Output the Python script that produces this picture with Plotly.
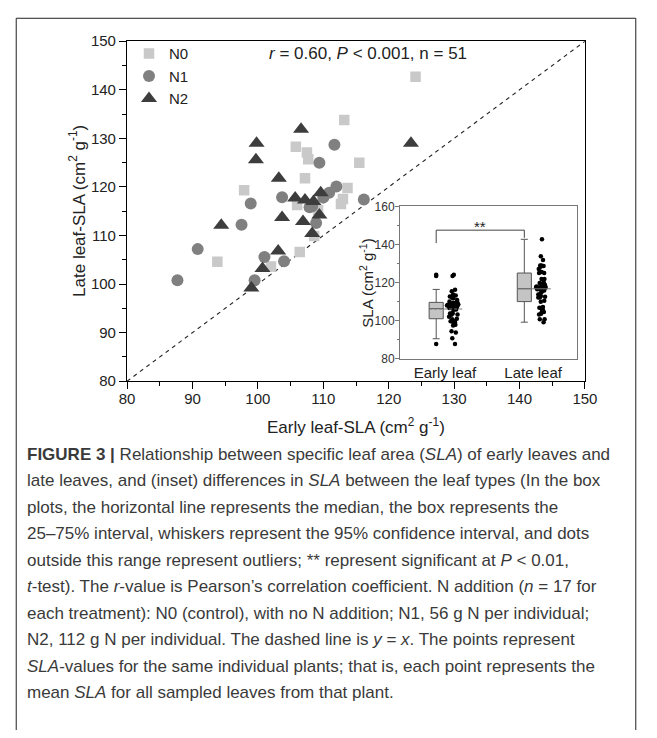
import plotly.graph_objects as go
import numpy as np

# ---------------- data ----------------
n0_early = [124.1, 113.2, 105.8, 107.5, 107.7, 115.5, 107.2, 97.9, 113.7, 113.0,
            112.7, 106.4, 93.8, 102.0, 108.6, 109.2, 106.0]
n0_late = [142.7, 133.8, 128.3, 127.1, 125.7, 125.0, 121.8, 119.3, 119.8, 117.5,
           116.5, 106.6, 104.6, 103.6, 109.9, 115.2, 116.3]

n1_early = [111.7, 109.4, 98.9, 103.7, 110.9, 112.0, 116.2, 107.9, 108.9, 97.5,
            90.8, 87.7, 101.0, 104.0, 99.5, 108.3, 110.0]
n1_late = [128.7, 125.0, 116.6, 117.9, 118.8, 120.1, 117.4, 115.8, 112.6, 112.2,
           107.2, 100.8, 105.6, 104.7, 100.8, 116.0, 117.8]

n2_early = [99.8, 99.7, 103.2, 106.6, 123.4, 105.7, 107.2, 108.5, 109.6, 103.7,
            106.9, 109.4, 108.3, 94.4, 103.1, 100.7, 99.0]
n2_late = [129.0, 125.6, 121.8, 131.9, 129.0, 117.7, 117.3, 117.0, 118.8, 113.7,
           112.9, 114.2, 110.4, 112.1, 106.8, 103.2, 99.2]

groups = ["N0", "N1", "N2"]
main_ticks = [80, 90, 100, 110, 120, 130, 140, 150]
identity_range = [80, 150]

# inset box statistics
leaf_types = ["Early leaf", "Late leaf"]
box_q1 = [101.0, 110.0]
box_median = [106.3, 116.8]
box_q3 = [109.6, 125.0]
box_lower = [90.5, 99.2]
box_upper = [116.4, 142.7]
inset_ticks = [80, 100, 120, 140, 160]

caption_lines = [
    "<b>FIGURE 3 |</b> Relationship between specific leaf area (<i>SLA</i>) of early leaves and",
    "late leaves, and (inset) differences in <i>SLA</i> between the leaf types (In the box",
    "plots, the horizontal line represents the median, the box represents the",
    "25–75% interval, whiskers represent the 95% confidence interval, and dots",
    "outside this range represent outliers; ** represent significant at <i>P</i> &lt; 0.01,",
    "<i>t</i>-test). The <i>r</i>-value is Pearson’s correlation coefficient. N addition (<i>n</i> = 17 for",
    "each treatment): N0 (control), with no N addition; N1, 56 g N per individual;",
    "N2, 112 g N per individual. The dashed line is <i>y</i> = <i>x</i>. The points represent",
    "<i>SLA</i>-values for the same individual plants; that is, each point represents the",
    "mean <i>SLA</i> for all sampled leaves from that plant.",
]

# ---------------- helpers ----------------
# The page body margin is removed (post_script), so the figure fills the window;
# positions below are given in window pixels.
W, H = 657, 738
FONT = "Liberation Sans, Arial, sans-serif"


def fx(p):
    return p / W


def fy(p):
    return 1 - p / H


early_all = n0_early + n1_early + n2_early
late_all = n0_late + n1_late + n2_late
inset_data = [early_all, late_all]

fig = go.Figure()

# y = x dashed line
fig.add_trace(go.Scatter(x=identity_range, y=identity_range, mode="lines",
                         line=dict(color="#222222", width=1.1, dash="4px,4px"),
                         showlegend=False, hoverinfo="skip"))

styles = {
    "N0": dict(symbol="square", size=10.5, color="#c9c9c9"),
    "N1": dict(symbol="circle", size=12, color="#808080"),
    "N2": dict(symbol="triangle-up", size=14, color="#3d3d3d"),
}
for g, xe, yl in zip(groups, [n0_early, n1_early, n2_early], [n0_late, n1_late, n2_late]):
    fig.add_trace(go.Scatter(x=xe, y=yl, mode="markers", name=g,
                             marker=dict(symbol=styles[g]["symbol"], size=styles[g]["size"],
                                         color=styles[g]["color"], line=dict(width=0))))

# ---------------- inset ----------------
box_pos = [0.9, 1.9]
pts_pos = [1.1, 2.1]
for i in range(2):
    fig.add_trace(go.Box(x=[box_pos[i]], q1=[box_q1[i]], median=[box_median[i]],
                         q3=[box_q3[i]], lowerfence=[box_lower[i]], upperfence=[box_upper[i]],
                         width=0.16, whiskerwidth=0.5, fillcolor="#c4c4c4",
                         line=dict(color="#555555", width=1), boxpoints=False,
                         xaxis="x2", yaxis="y2", showlegend=False, hoverinfo="skip"))
    vals = np.array(inset_data[i])
    outl = vals[(vals < box_lower[i]) | (vals > box_upper[i])]
    fig.add_trace(go.Scatter(x=[box_pos[i]] * len(outl), y=outl, mode="markers",
                             marker=dict(color="black", size=4.5),
                             xaxis="x2", yaxis="y2", showlegend=False))
    fig.add_trace(go.Box(x=[pts_pos[i]] * len(vals), y=vals, boxpoints="all", jitter=1,
                         pointpos=0, width=0.17, fillcolor="rgba(0,0,0,0)",
                         line=dict(color="rgba(0,0,0,0)", width=0),
                         marker=dict(color="black", size=4.5),
                         xaxis="x2", yaxis="y2", showlegend=False))
    m = float(np.mean(vals))
    fig.add_trace(go.Scatter(x=[box_pos[i] - 0.08, pts_pos[i] + 0.1], y=[m, m], mode="lines",
                             line=dict(color="#777777", width=1,
                                       dash="3px,2px" if i == 0 else "solid"),
                             xaxis="x2", yaxis="y2", showlegend=False, hoverinfo="skip"))

axis_common = dict(showgrid=False, zeroline=False, showline=True, linecolor="black",
                   linewidth=1.2, mirror=True, ticks="outside", tickcolor="black",
                   tickwidth=1.2, ticklen=7,
                   tickfont=dict(family=FONT, size=15, color="#222222"))

fig.update_layout(
    width=W, height=H, autosize=False,
    margin=dict(l=0, r=0, t=0, b=0),
    paper_bgcolor="white", plot_bgcolor="white",
    font=dict(family=FONT, color="#222222"),
    showlegend=True,
    legend=dict(x=fx(125), y=fy(29), xanchor="left", yanchor="top",
                font=dict(family=FONT, size=15, color="#222222"),
                bgcolor="rgba(0,0,0,0)", tracegroupgap=0, itemsizing="trace"),
    xaxis=dict(domain=[fx(123), fx(596)], range=[80, 150], tickvals=main_ticks,
               minor=dict(ticks="outside", ticklen=4, dtick=5, tickcolor="black", tickwidth=1.2),
               ticklabelstandoff=-3, anchor="y", **axis_common),
    yaxis=dict(domain=[fy(381), fy(33)], range=[80, 150], tickvals=main_ticks,
               minor=dict(ticks="outside", ticklen=4, dtick=5, tickcolor="black", tickwidth=1.2),
               anchor="x", **axis_common),
    xaxis2=dict(domain=[fx(405), fx(588)], range=[0.49, 2.5], anchor="y2",
                tickvals=[1, 2], ticktext=leaf_types, ticks="", showgrid=False,
                zeroline=False, showline=True, linecolor="#777777", linewidth=1, mirror=True,
                tickfont=dict(family=FONT, size=15, color="#222222")),
    yaxis2=dict(domain=[fy(358), fy(202)], range=[80, 160], anchor="x2",
                tickvals=inset_ticks, ticks="outside", ticklen=4, tickcolor="#777777",
                ticklabelstandoff=-2,
                minor=dict(ticks="outside", ticklen=2, dtick=10, tickcolor="#777777"),
                showgrid=False, zeroline=False, showline=True, linecolor="#777777",
                linewidth=1, mirror=True,
                tickfont=dict(family=FONT, size=12, color="#333333")),
)

annotations = [
    dict(text="Late leaf-SLA (cm<sup>2</sup> g<sup>-1</sup>)", x=fx(72), y=fy(207),
         textangle=-90, font=dict(size=17)),
    dict(text="Early leaf-SLA (cm<sup>2</sup> g<sup>-1</sup>)", x=fx(359), y=fy(427),
         font=dict(size=17)),
    dict(text="<i>r</i> = 0.60, <i>P</i> &lt; 0.001, n = 51", x=fx(372), y=fy(46),
         font=dict(size=17)),
    dict(text="SLA (cm<sup>2</sup> g<sup>-1</sup>)", x=fx(370), y=fy(281),
         textangle=-90, font=dict(size=15)),
    dict(text="**", x=1.4, y=149.5, xref="x2", yref="y2", font=dict(size=15)),
]
for a in annotations:
    a.setdefault("xref", "paper")
    a.setdefault("yref", "paper")
    a.update(showarrow=False, xanchor="center", yanchor="middle")
    a["font"].update(family=FONT, color="#222222")

for i, line in enumerate(caption_lines):
    annotations.append(dict(text=line, x=fx(18), y=fy(456 + 27.1 * i), xref="paper",
                            yref="paper", showarrow=False, xanchor="left", yanchor="middle",
                            align="left",
                            font=dict(family=FONT, size=17, color="#3a3a3a")))
fig.update_layout(annotations=annotations)

shapes = [
    dict(type="path", xref="x2", yref="y2",
         path=f"M {box_pos[0]},140.7 L {box_pos[0]},147.5 L {box_pos[1]},147.5 L {box_pos[1]},143.5",
         line=dict(color="#444444", width=1)),
    # outer figure frame (left, top and right edges) running to the bottom of the page
    dict(type="path", xref="paper", yref="paper",
         path=f"M {fx(8.5)},0 L {fx(8.5)},{fy(9.5)} L {fx(648.5)},{fy(9.5)} L {fx(648.5)},0",
         line=dict(color="#222222", width=1), layer="above"),
]
fig.update_layout(shapes=shapes)

fig.write_html("out.html", config={"displayModeBar": False},
               post_script="document.body.style.margin='0';document.body.style.overflow='hidden';")
